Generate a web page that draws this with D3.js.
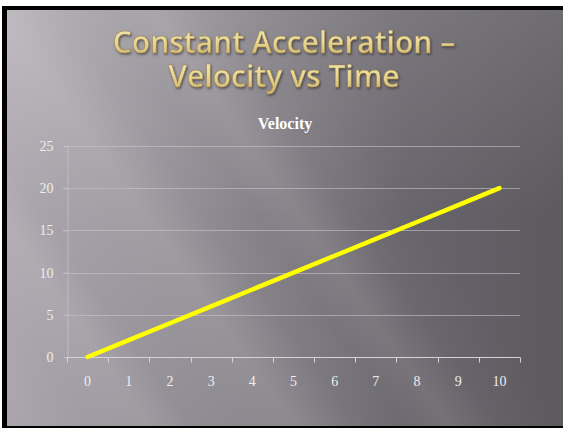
<!DOCTYPE html>
<html>
<head>
<meta charset="utf-8">
<script src="https://cdn.jsdelivr.net/npm/d3@7"></script>
<style>
  html, body { margin: 0; padding: 0; background: #5b585e; overflow: hidden; }
  svg { display: block; }
</style>
</head>
<body>
<div id="chart"></div>
<script>
// chart data
const titleLines = ['Constant Acceleration –', 'Velocity vs Time'];
const chartTitle = 'Velocity';
const timeValues = [0, 1, 2, 3, 4, 5, 6, 7, 8, 9, 10];
const velocityValues = [0, 2, 4, 6, 8, 10, 12, 14, 16, 18, 20];
const yTicks = [0, 5, 10, 15, 20, 25];

const W = 563, H = 428;
const plot = { left: 67, right: 520, top: 146, bottom: 357 };

const svg = d3.select('#chart').append('svg')
    .attr('width', W)
    .attr('height', H);

const defs = svg.append('defs');

// slide background: dark towards the right
const base = defs.append('linearGradient')
    .attr('id', 'bg-base')
    .attr('x1', 0).attr('y1', 0).attr('x2', 1).attr('y2', 0);
[[0, '#aba6ad'], [0.35, '#8b878e'], [0.7, '#69656c'], [1, '#5b585e']]
    .forEach(([o, c]) => base.append('stop').attr('offset', o).attr('stop-color', c));

const vert = defs.append('linearGradient')
    .attr('id', 'bg-vert')
    .attr('x1', 0).attr('y1', 0).attr('x2', 0).attr('y2', 1);
[[0, 0.12], [0.5, 0.0], [1, 0.0]]
    .forEach(([o, a]) => vert.append('stop').attr('offset', o)
        .attr('stop-color', '#fff').attr('stop-opacity', a));

// diagonal light streaks
const streak = defs.append('linearGradient')
    .attr('id', 'bg-streak')
    .attr('gradientUnits', 'userSpaceOnUse')
    .attr('x1', 0).attr('y1', 420).attr('x2', 567).attr('y2', 15);
[[0, 0], [0.1, 0.02], [0.17, 0.1], [0.22, 0.03], [0.28, 0.07], [0.34, 0.13],
 [0.41, 0.04], [0.47, 0.03], [0.52, 0.1], [0.58, 0.02], [0.66, 0.0], [1, 0]]
    .forEach(([o, a]) => streak.append('stop').attr('offset', o)
        .attr('stop-color', '#fff').attr('stop-opacity', a));

const gold = defs.append('linearGradient')
    .attr('id', 'gold')
    .attr('x1', 0).attr('y1', 0).attr('x2', 0).attr('y2', 1);
[[0, '#f6eebe'], [0.5, '#e9d894'], [1, '#c8ad62']]
    .forEach(([o, c]) => gold.append('stop').attr('offset', o).attr('stop-color', c));

const shadow = defs.append('filter').attr('id', 'shadow')
    .attr('x', '-10%').attr('y', '-20%').attr('width', '120%').attr('height', '140%');
shadow.append('feDropShadow')
    .attr('dx', 1).attr('dy', 1.5).attr('stdDeviation', 0.8)
    .attr('flood-color', '#2a2520').attr('flood-opacity', 0.65);

// page, then frame: black edge on top, left and bottom only
svg.append('rect').attr('width', W).attr('height', H).attr('fill', '#fff');
svg.append('rect').attr('x', 2).attr('y', 6).attr('width', W + 10).attr('height', H - 6)
    .attr('fill', '#000');
const slide = { x: 7, y: 10, w: W + 10 - 7, h: 416 };
['url(#bg-base)', 'url(#bg-vert)', 'url(#bg-streak)'].forEach(f =>
    svg.append('rect')
        .attr('x', slide.x).attr('y', slide.y)
        .attr('width', slide.w).attr('height', slide.h)
        .attr('fill', f));

// title
svg.append('g')
    .attr('filter', 'url(#shadow)')
    .selectAll('text')
    .data(titleLines)
    .join('text')
    .attr('x', 284)
    .attr('y', (d, i) => 53 + i * 34)
    .attr('text-anchor', 'middle')
    .attr('font-family', 'Open Sans, sans-serif')
    .attr('font-weight', 600)
    .attr('font-size', 30)
    .attr('fill', 'url(#gold)')
    .attr('stroke', '#9a8048')
    .attr('stroke-width', 0.4)
    .text(d => d);

// scales
const x = d3.scaleBand()
    .domain(timeValues)
    .range([plot.left, plot.right]);

const y = d3.scaleLinear()
    .domain([0, 25])
    .range([plot.bottom, plot.top]);

// gridlines
svg.append('g')
    .selectAll('line')
    .data(yTicks.filter(d => d > 0))
    .join('line')
    .attr('x1', plot.left - 4).attr('x2', plot.right)
    .attr('y1', d => Math.round(y(d)) + 0.5).attr('y2', d => Math.round(y(d)) + 0.5)
    .attr('stroke', '#c9c5cc').attr('stroke-opacity', 0.6);

// y axis
const yAxis = svg.append('g')
    .attr('transform', `translate(${plot.left + 0.5},0)`)
    .call(d3.axisLeft(y).tickValues(yTicks).tickSize(4).tickPadding(10));
yAxis.select('.domain').attr('stroke', '#c9c5cc').attr('stroke-opacity', 0.7);
yAxis.selectAll('.tick line').attr('stroke', '#c9c5cc').attr('stroke-opacity', 0.7);
yAxis.selectAll('text')
    .attr('font-family', 'Liberation Serif, serif')
    .attr('font-size', 14)
    .attr('fill', '#eeeeee');

// x axis: ticks between categories
const xAxisG = svg.append('g')
    .attr('transform', `translate(0,${plot.bottom + 0.5})`);
xAxisG.append('line')
    .attr('x1', plot.left).attr('x2', plot.right)
    .attr('stroke', '#d6d3d8');
xAxisG.selectAll('.tick-mark')
    .data(timeValues.concat(['end']))
    .join('line')
    .attr('class', 'tick-mark')
    .attr('x1', d => Math.round(d === 'end' ? plot.right : x(d)) + 0.5)
    .attr('x2', d => Math.round(d === 'end' ? plot.right : x(d)) + 0.5)
    .attr('y1', 0).attr('y2', 5)
    .attr('stroke', '#d6d3d8');
xAxisG.selectAll('text')
    .data(timeValues)
    .join('text')
    .attr('x', d => x(d) + x.bandwidth() / 2)
    .attr('y', 28)
    .attr('text-anchor', 'middle')
    .attr('font-family', 'Liberation Serif, serif')
    .attr('font-size', 14)
    .attr('fill', '#eeeeee')
    .text(d => d);

// chart title
svg.append('text')
    .attr('x', 285)
    .attr('y', 129)
    .attr('text-anchor', 'middle')
    .attr('font-family', 'Liberation Serif, serif')
    .attr('font-weight', 'bold')
    .attr('font-size', 16)
    .attr('fill', '#ffffff')
    .text(chartTitle);

// series
const line = d3.line()
    .x((d, i) => x(timeValues[i]) + x.bandwidth() / 2)
    .y(d => y(d));

svg.append('path')
    .datum(velocityValues)
    .attr('d', line)
    .attr('fill', 'none')
    .attr('stroke', '#ffff00')
    .attr('stroke-width', 4.5)
    .attr('stroke-linecap', 'round');
</script>
</body>
</html>
